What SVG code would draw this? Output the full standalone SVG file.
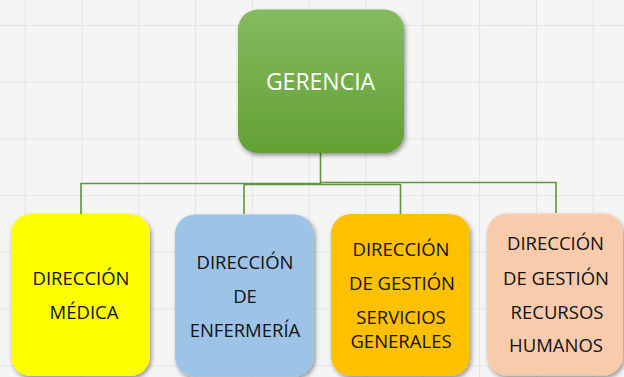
<svg xmlns="http://www.w3.org/2000/svg" width="624" height="377" viewBox="0 0 624 377">
<defs>
<pattern id="grid" x="24.7" y="25" width="56.8" height="56.7" patternUnits="userSpaceOnUse">
<path d="M0 0V56.7M0 0H56.8" fill="none" stroke="#e4e4e4" stroke-width="2"/>
</pattern>
<linearGradient id="g1" x1="0" y1="0" x2="0" y2="1">
<stop offset="0" stop-color="#85bb60"/>
<stop offset="1" stop-color="#62a033"/>
</linearGradient>
<filter id="sh" x="-10%" y="-10%" width="125%" height="125%">
<feDropShadow dx="1.5" dy="2.5" stdDeviation="2" flood-color="#000" flood-opacity="0.4"/>
</filter>
</defs>
<style>
.box{filter:url(#sh)}
.t{font-family:"Open Sans","Liberation Sans",sans-serif;font-size:18.5px;fill:#111;text-anchor:middle}
.w{font-family:"Open Sans","Liberation Sans",sans-serif;font-size:23px;fill:#fff;text-anchor:middle}
.c{fill:none;stroke:#5e9639;stroke-width:1.6}
</style>
<rect width="624" height="377" fill="#f5f5f5"/>
<rect width="624" height="377" fill="url(#grid)"/>
<g id="connectors">
<path class="c" d="M320.5 153V183.5H81V214"/>
<path class="c" d="M244 184.5V214M244 184.5H400.5V214"/>
<path class="c" d="M320.5 182.5H556V213"/>
</g>
<g id="gerencia">
<rect class="box" x="238" y="9.5" width="166" height="143.5" rx="20" fill="url(#g1)"/>
<text class="w" x="320.5" y="89.5">GERENCIA</text>
</g>
<g id="direccion-medica">
<rect class="box" x="11" y="214" width="139" height="162" rx="20" fill="#ffff00"/>
<text class="t" x="81" y="285">DIRECCIÓN</text>
<text class="t" x="84" y="319">MÉDICA</text>
</g>
<g id="direccion-enfermeria">
<rect class="box" x="175" y="214.5" width="139" height="162" rx="20" fill="#9dc3e6"/>
<text class="t" x="245" y="269">DIRECCIÓN</text>
<text class="t" x="245" y="303">DE</text>
<text class="t" x="245" y="336.5">ENFERMERÍA</text>
</g>
<g id="direccion-servicios">
<rect class="box" x="331" y="214" width="139" height="162" rx="20" fill="#ffc000"/>
<text class="t" x="401" y="256">DIRECCIÓN</text>
<text class="t" x="402" y="289.5">DE GESTIÓN</text>
<text class="t" x="401" y="324">SERVICIOS</text>
<text class="t" x="401" y="348">GENERALES</text>
</g>
<g id="direccion-rrhh">
<rect class="box" x="487" y="213.5" width="136" height="162" rx="20" fill="#f8cbad"/>
<text class="t" x="555.5" y="250">DIRECCIÓN</text>
<text class="t" x="556" y="284.5">DE GESTIÓN</text>
<text class="t" x="557" y="318.5">RECURSOS</text>
<text class="t" x="556" y="352">HUMANOS</text>
</g>
</svg>
